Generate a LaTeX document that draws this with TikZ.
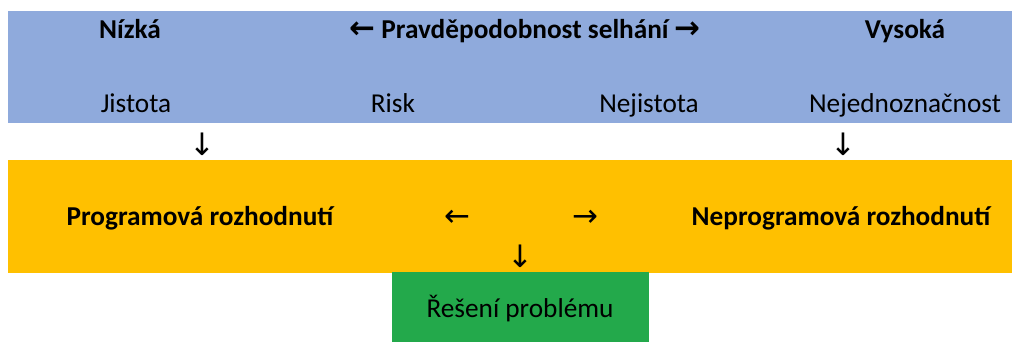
\documentclass[tikz,border=0pt]{standalone}
\usepackage{fontspec}
\setmainfont{Carlito}
\newfontfamily\arrowfont{DejaVu Sans}
\usepackage{xcolor}
\usepackage{tikz}
\usetikzlibrary{positioning}
\definecolor{bandblue}{HTML}{8FAADC}
\definecolor{bandorange}{HTML}{FFC000}
\definecolor{boxgreen}{HTML}{23A94B}
\def\arr#1{{\arrowfont\fontsize{22}{24}\selectfont#1}}

\begin{document}
\begin{tikzpicture}[x=0.025cm, y=-0.025cm,
    band/.style={rectangle, inner sep=0pt, minimum width=25.1cm},
    lbl/.style={font=\fontsize{19.4}{22}\selectfont, inner sep=0pt, anchor=base},
    head/.style={lbl, font=\fontsize{19.4}{22}\selectfont\bfseries}]
    \useasboundingbox (0,0) rectangle (1020,342);

    \node[band, fill=bandblue, minimum height=2.8cm] (prob) at (510,67) {};
    \node[band, fill=bandorange, minimum height=2.825cm] (decide) at (510,216.5) {};
    \node[rectangle, inner sep=0pt, fill=boxgreen, minimum width=6.425cm, minimum height=1.75cm] (solve) at (520.5,307) {};

    \node[head] (low) at (130,38) {Nízká};
    \node[head] (title) at (525,38) {\arr{\bfseries←}\ Pravděpodobnost selhání\ \arr{\bfseries→}};
    \node[head] (high) at (905,38) {Vysoká};

    \node[lbl] (certain) at (136,112) {Jistota};
    \node[lbl] (risk) at (393,112) {Risk};
    \node[lbl] (uncertain) at (649,112) {Nejistota};
    \node[lbl] (ambig) at (905,112) {Nejednoznačnost};

    \node[lbl] (downl) at (202,155) {\arr{↓}};
    \node[lbl] (downr) at (843,155) {\arr{↓}};

    \node[head] (prog) at (200,225) {Programová rozhodnutí};
    \node[lbl] (toleft) at (457,226) {\arr{←}};
    \node[lbl] (toright) at (585,226) {\arr{→}};
    \node[head] (nonprog) at (841,225) {Neprogramová rozhodnutí};
    \node[lbl] (downc) at (520,267) {\arr{↓}};

    \node[lbl] (solvetxt) at (520,317) {Řešení problému};
\end{tikzpicture}
\end{document}
